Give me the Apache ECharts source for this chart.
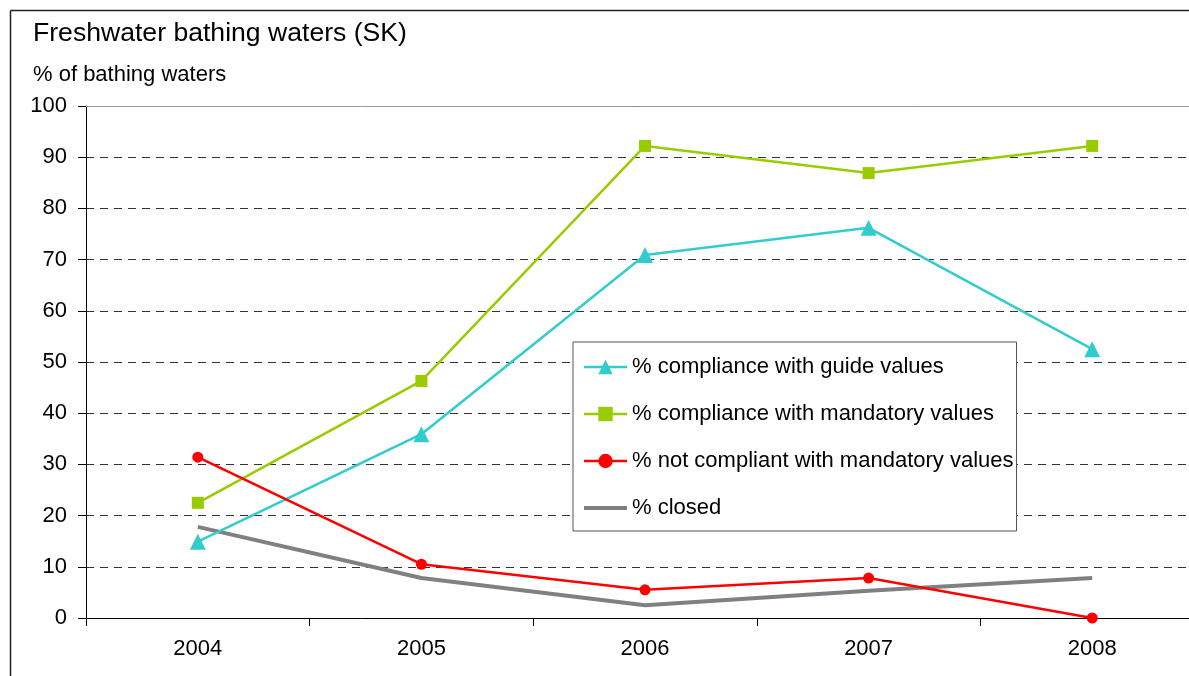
<!DOCTYPE html>
<html>
<head>
<meta charset="utf-8">
<script src="https://cdn.jsdelivr.net/npm/echarts@6/dist/echarts.min.js"></script>
<style>html,body{margin:0;padding:0;background:#fff}#c{width:1189px;height:676px}</style>
</head>
<body>
<div id="c"></div>
<script>
const years = ['2004', '2005', '2006', '2007', '2008'];
const guideValues = [14.9, 35.9, 70.9, 76.2, 52.5];
const mandatoryValues = [22.5, 46.3, 92.2, 86.9, 92.2];
const notCompliant = [31.4, 10.5, 5.5, 7.8, 0];
const closedValues = [17.8, 7.8, 2.5, 5.3, 7.8];
const seriesNames = ['% compliance with guide values', '% compliance with mandatory values', '% not compliant with mandatory values', '% closed'];

const chart = echarts.init(document.getElementById('c'), null, {renderer: 'canvas'});
const font = 'Liberation Sans, Arial, sans-serif';
chart.setOption({
  animation: false,
  backgroundColor: '#fff',
  textStyle: {fontFamily: font},
  graphic: [
    {type: 'line', shape: {x1: 10.5, y1: 10.5, x2: 1189, y2: 10.5}, style: {stroke: '#222', lineWidth: 1.5}},
    {type: 'line', shape: {x1: 10.5, y1: 10.5, x2: 10.5, y2: 676}, style: {stroke: '#222', lineWidth: 1.5}},
    {type: 'text', left: 33, top: 20, style: {text: 'Freshwater bathing waters (SK)', font: '26.6px ' + font, fill: '#000'}},
    {type: 'text', left: 33, top: 64, style: {text: '% of bathing waters', font: '22px ' + font, fill: '#000'}}
  ],
  grid: {left: 86, top: 106, bottom: 58, width: 1118, outerBoundsMode: 'none', containLabel: false},
  legend: {
    orient: 'vertical', left: 573, top: 342,
    data: [
      {name: seriesNames[0], lineStyle: {width: 2.5}},
      {name: seriesNames[1], lineStyle: {width: 2.5}},
      {name: seriesNames[2], lineStyle: {width: 2.5}},
      {name: seriesNames[3], itemStyle: {opacity: 0}, lineStyle: {width: 4}}
    ],
    itemWidth: 43, itemHeight: 18, itemGap: 25,
    padding: [14, 3, 12, 9],
    borderColor: '#555', borderWidth: 1, backgroundColor: '#fff',
    textStyle: {fontSize: 22, color: '#000', fontFamily: font, lineHeight: 22}
  },
  xAxis: [{
    type: 'category', data: years, boundaryGap: true,
    axisLine: {lineStyle: {color: '#000', width: 1}},
    axisTick: {show: true, length: 8, lineStyle: {color: '#000'}},
    axisLabel: {fontSize: 22, color: '#000', margin: 20, fontFamily: font},
    splitLine: {show: false}
  }, {
    type: 'category', data: years, position: 'top',
    axisLine: {lineStyle: {color: '#999', width: 1}},
    axisTick: {show: false}, axisLabel: {show: false}
  }],
  yAxis: {
    type: 'value', min: 0, max: 100, interval: 10,
    axisLine: {show: true, lineStyle: {color: '#000'}},
    axisTick: {show: true, length: 8, lineStyle: {color: '#000'}},
    axisLabel: {fontSize: 22, color: '#000', margin: 19, fontFamily: font},
    splitLine: {show: true, lineStyle: {color: '#333', type: [8, 6], width: 1}}
  },
  series: [
    {name: seriesNames[0], type: 'line', data: guideValues, symbol: 'triangle', symbolSize: 16,
     lineStyle: {color: '#33CCCC', width: 2.5}, itemStyle: {color: '#33CCCC'}, z: 4},
    {name: seriesNames[1], type: 'line', data: mandatoryValues, symbol: 'rect', symbolSize: 12,
     lineStyle: {color: '#99CC00', width: 2.5}, itemStyle: {color: '#99CC00'}, z: 4},
    {name: seriesNames[2], type: 'line', data: notCompliant, symbol: 'circle', symbolSize: 11,
     lineStyle: {color: '#FF0000', width: 2.5}, itemStyle: {color: '#FF0000'}, z: 4},
    {name: seriesNames[3], type: 'line', data: closedValues, symbol: 'none',
     lineStyle: {color: '#808080', width: 4}, itemStyle: {color: '#808080'}, z: 3}
  ]
});
</script>
</body>
</html>
